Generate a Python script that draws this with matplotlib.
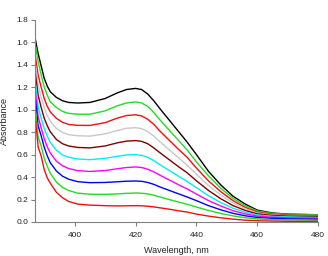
import matplotlib
matplotlib.use("Agg")
import matplotlib.pyplot as plt

plt.rcParams['font.family'] = ['Liberation Sans', 'DejaVu Sans']

# wavelength grid (nm)
wl = [387, 388, 389, 390, 391, 392, 394, 396, 398, 401, 405, 410, 414, 417, 420,
      422, 424, 426, 428, 431, 434, 437, 440, 444, 448, 452, 456, 460, 465, 470, 480]

# absorbance spectra, top to bottom
black = [1.64, 1.50, 1.39, 1.28, 1.21, 1.16, 1.11, 1.08, 1.065, 1.06,
         1.065, 1.10, 1.15, 1.18, 1.19,
         1.18, 1.14, 1.08, 1.01, 0.91, 0.81, 0.71, 0.60, 0.45, 0.33, 0.23, 0.16,
         0.105, 0.08, 0.07, 0.064]
green1 = [1.59, 1.43, 1.31, 1.20, 1.13, 1.07, 1.02, 0.985, 0.968, 0.96,
          0.96, 0.99, 1.035, 1.06, 1.07,
          1.06, 1.03, 0.975, 0.91, 0.82, 0.73, 0.64, 0.535, 0.41, 0.30, 0.21, 0.145,
          0.097, 0.076, 0.068, 0.064]
red1 = [1.49, 1.31, 1.20, 1.10, 1.03, 0.98, 0.923, 0.888, 0.869, 0.861,
        0.86, 0.885, 0.925, 0.948, 0.955,
        0.945, 0.915, 0.87, 0.81, 0.73, 0.65, 0.575, 0.48, 0.365, 0.27, 0.19, 0.13,
        0.088, 0.068, 0.06, 0.057]
gray = [1.42, 1.22, 1.11, 1.02, 0.948, 0.896, 0.834, 0.798, 0.778, 0.768,
        0.765, 0.785, 0.815, 0.835, 0.84,
        0.832, 0.806, 0.765, 0.715, 0.645, 0.575, 0.505, 0.425, 0.325, 0.24, 0.17, 0.118,
        0.08, 0.062, 0.055, 0.05]
brown = [1.34, 1.13, 1.02, 0.925, 0.857, 0.803, 0.735, 0.697, 0.677, 0.664,
         0.66, 0.677, 0.705, 0.72, 0.725,
         0.718, 0.697, 0.66, 0.617, 0.556, 0.495, 0.437, 0.367, 0.28, 0.207, 0.146, 0.103,
         0.072, 0.058, 0.052, 0.048]
cyan = [1.25, 1.03, 0.923, 0.833, 0.764, 0.708, 0.638, 0.597, 0.576, 0.561,
        0.555, 0.567, 0.585, 0.597, 0.60,
        0.594, 0.576, 0.546, 0.51, 0.46, 0.41, 0.36, 0.305, 0.233, 0.172, 0.122, 0.087,
        0.062, 0.05, 0.045, 0.04]
magenta = [1.18, 0.939, 0.837, 0.742, 0.669, 0.614, 0.541, 0.501, 0.476, 0.457,
           0.45, 0.458, 0.474, 0.485, 0.49,
           0.485, 0.47, 0.446, 0.417, 0.375, 0.333, 0.294, 0.248, 0.19, 0.142, 0.10, 0.072,
           0.052, 0.042, 0.037, 0.034]
blue = [1.12, 0.858, 0.766, 0.666, 0.589, 0.527, 0.454, 0.408, 0.381, 0.359,
        0.35, 0.352, 0.358, 0.363, 0.365,
        0.362, 0.352, 0.335, 0.312, 0.282, 0.252, 0.222, 0.19, 0.145, 0.108, 0.077, 0.055,
        0.04, 0.032, 0.028, 0.025]
green2 = [1.03, 0.755, 0.677, 0.567, 0.496, 0.433, 0.355, 0.308, 0.28, 0.257,
          0.247, 0.246, 0.25, 0.255, 0.258,
          0.256, 0.25, 0.238, 0.222, 0.20, 0.178, 0.157, 0.133, 0.102, 0.076, 0.054, 0.038,
          0.027, 0.021, 0.018, 0.015]
red2 = [0.95, 0.668, 0.587, 0.466, 0.393, 0.345, 0.264, 0.216, 0.183, 0.159,
        0.15, 0.145, 0.143, 0.144, 0.145,
        0.144, 0.14, 0.134, 0.126, 0.114, 0.10, 0.088, 0.07, 0.052, 0.037, 0.025, 0.016,
        0.011, 0.008, 0.006, 0.005]

series = [black, green1, red1, gray, brown, cyan, magenta, blue, green2, red2]
colors = ['#000000', '#22dd22', '#ee1111', '#c8c8c8', '#800000',
          '#00f0f0', '#ff00ff', '#0000ff', '#22dd22', '#ee1111']

fig = plt.figure(figsize=(3.28, 2.56), dpi=100)
ax = fig.add_axes([0.107, 0.133, 0.863, 0.789])

for y, c in zip(series, colors):
    ax.plot(wl, y, color=c, lw=1.0)

ax.set_xlim(387, 480)
ax.set_ylim(0, 1.8)
ax.set_xticks([400, 420, 440, 460, 480])
ax.set_yticks([0.0, 0.2, 0.4, 0.6, 0.8, 1.0, 1.2, 1.4, 1.6, 1.8])
ax.set_yticklabels(['0.0', '0.2', '0.4', '0.6', '0.8', '1.0', '1.2', '1.4', '1.6', '1.8'])

for s in ['top', 'right']:
    ax.spines[s].set_visible(False)
for s in ['left', 'bottom']:
    ax.spines[s].set_color('#808080')
    ax.spines[s].set_linewidth(0.8)

ax.tick_params(direction='out', length=3, width=0.8, color='#808080',
               labelsize=6, labelcolor='#222222')
ax.tick_params(axis='x', pad=4)
ax.tick_params(axis='y', pad=2)

ax.set_xlabel('Wavelength, nm', fontsize=6.5, color='#222222', labelpad=5)
ax.set_ylabel('Absorbance', fontsize=6.5, color='#222222', labelpad=5)

fig.savefig('out.png', dpi=100)
